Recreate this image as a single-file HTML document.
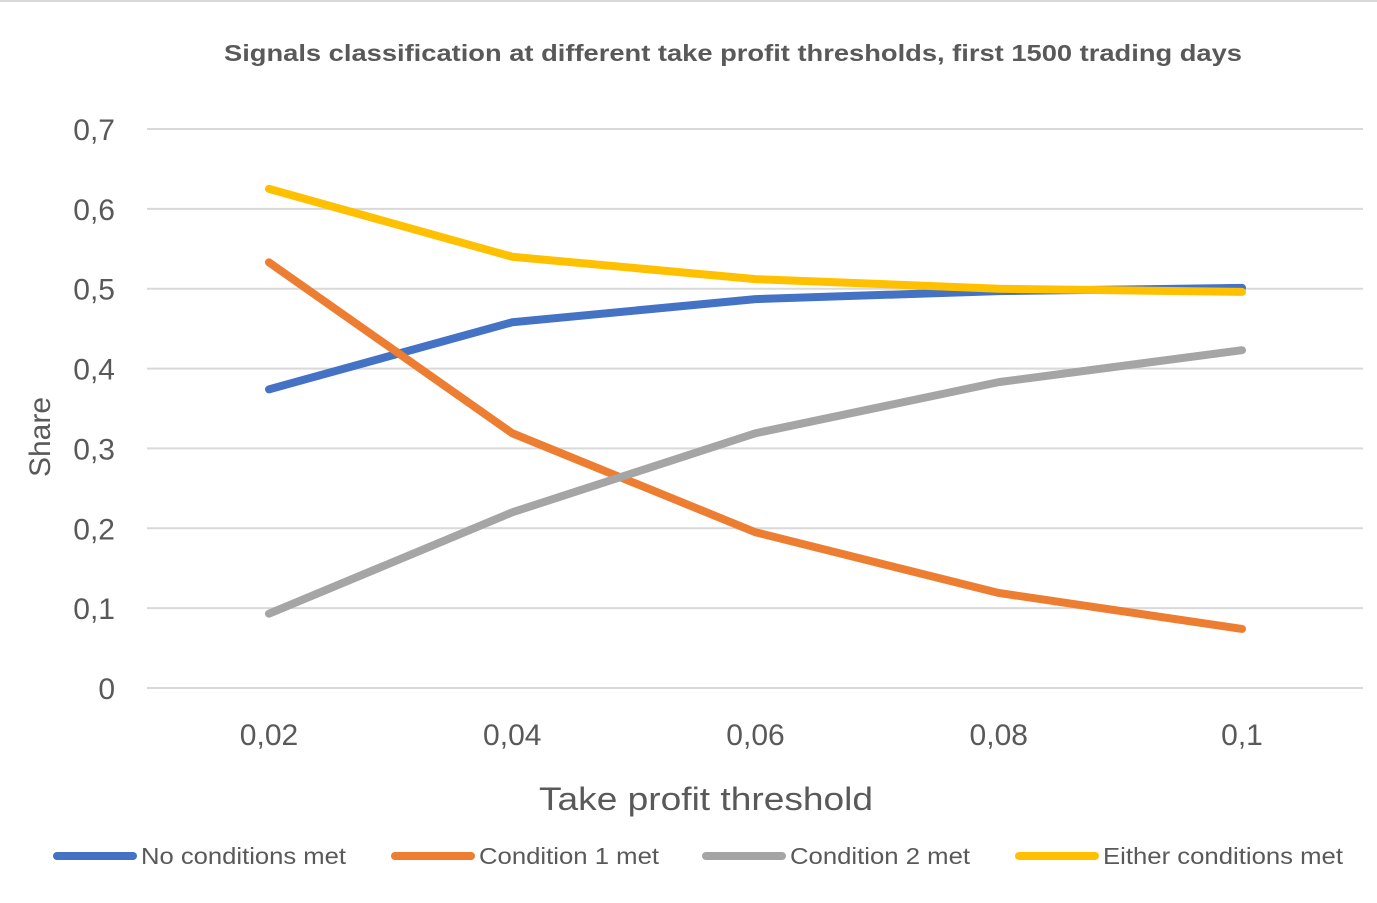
<!DOCTYPE html>
<html><head><meta charset="utf-8"><style>
body{margin:0;background:#fff;}
svg{display:block;font-family:"Liberation Sans",sans-serif;}
</style></head><body>
<svg id="chart" width="1377" height="903" viewBox="0 0 1377 903">
<rect width="1377" height="903" fill="#fff"/>
<line x1="0" y1="1" x2="1377" y2="1" stroke="#d9d9d9" stroke-width="2"/>
<text x="733" y="61" text-anchor="middle" font-size="23" font-weight="bold" fill="#595959" textLength="1018" lengthAdjust="spacingAndGlyphs">Signals classification at different take profit thresholds, first 1500 trading days</text>
<g id="grid"></g><g id="yt"></g><g id="xt"></g><g id="lines"></g>
<text x="706" y="810" text-anchor="middle" font-size="32" fill="#595959" textLength="334" lengthAdjust="spacingAndGlyphs">Take profit threshold</text>
<text transform="translate(50,437) rotate(-90)" text-anchor="middle" font-size="30" fill="#595959">Share</text>
<g id="legend"></g>
</svg>
<script>
const categories=["0,02","0,04","0,06","0,08","0,1"];
const noCond=[0.374,0.458,0.487,0.497,0.501];
const cond1=[0.533,0.319,0.195,0.119,0.074];
const cond2=[0.093,0.220,0.319,0.383,0.423];
const either=[0.625,0.540,0.512,0.500,0.496];
const yTicks=[0,0.1,0.2,0.3,0.4,0.5,0.6,0.7];
const yTickLabels=["0","0,1","0,2","0,3","0,4","0,5","0,6","0,7"];
const seriesNames=["No conditions met","Condition 1 met","Condition 2 met","Either conditions met"];
const NS="http://www.w3.org/2000/svg";
const y=v=>688-v/0.7*559;
const x=i=>269+i*243.25;
function mk(t,a,p){const e=document.createElementNS(NS,t);for(const k in a)e.setAttribute(k,a[k]);p.appendChild(e);return e;}
const grid=document.getElementById('grid'),yt=document.getElementById('yt'),xt=document.getElementById('xt'),lines=document.getElementById('lines'),lg=document.getElementById('legend');
yTicks.forEach((v,i)=>{
 const l=mk('line',{x1:147,x2:1363,y1:y(v),y2:y(v),stroke:'#d9d9d9','stroke-width':2},grid);
 
 
 const t=mk('text',{x:115,y:y(v)+11,'text-anchor':'end','font-size':30,fill:'#595959'},yt);
 t.textContent=yTickLabels[i];
 
 
});
categories.forEach((c,i)=>{
 const t=mk('text',{x:x(i),y:745,'text-anchor':'middle','font-size':30,fill:'#595959'},xt);
 t.textContent=c;
 
 
});
const data=[noCond,cond1,cond2,either];
const colors=['#4472c4','#ed7d31','#a5a5a5','#ffc000'];
const names=['line-no-conditions','line-condition-1','line-condition-2','line-either-conditions'];
data.forEach((s,k)=>{
 const p=mk('polyline',{points:s.map((v,i)=>x(i)+','+y(v)).join(' '),fill:'none',stroke:colors[k],'stroke-width':8,'stroke-linejoin':'round','stroke-linecap':'round'},lines);
 
 
});
const lx=[57,395,706,1019],tw=[205,180,180,240];
seriesNames.forEach((n,k)=>{
 const g=mk('g',{},lg);
 
 
 mk('line',{x1:lx[k],x2:lx[k]+76,y1:856,y2:856,stroke:colors[k],'stroke-width':8,'stroke-linecap':'round'},g);
 const t=mk('text',{x:lx[k]+84,y:864,'font-size':23,fill:'#595959',textLength:tw[k],lengthAdjust:'spacingAndGlyphs'},g);
 t.textContent=n;
});
</script>
</body></html>
